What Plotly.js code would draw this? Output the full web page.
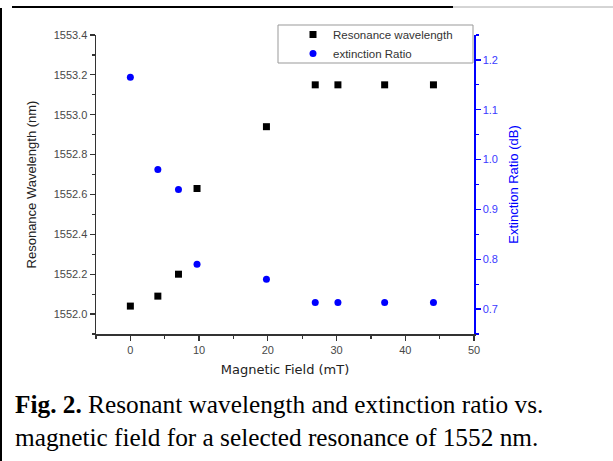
<!DOCTYPE html>
<html>
<head>
<meta charset="utf-8">
<script src="https://cdn.plot.ly/plotly-3.0.1.min.js"></script>
<style>
html,body{margin:0;padding:0;background:#fff;}
#chart{width:613px;height:461px;}
</style>
</head>
<body>
<div id="chart"></div>
<script>
// ---- data ----
const magneticField = [0, 4, 7, 9.7, 19.8, 26.9, 30.2, 37.0, 44.1];
const resonanceWavelength = [1552.04, 1552.09, 1552.20, 1552.63, 1552.94, 1553.15, 1553.15, 1553.15, 1553.15];
const extinctionRatio = [1.165, 0.98, 0.94, 0.79, 0.76, 0.713, 0.713, 0.713, 0.713];
const seriesNames = ["Resonance wavelength", "extinction Ratio"];
const xTitle = "Magnetic Field (mT)";
const yTitle = "Resonance Wavelength (nm)";
const y2Title = "Extinction Ratio (dB)";
const captionLines = ["<b>Fig. 2.</b> Resonant wavelength and extinction ratio vs.", "magnetic field for a selected resonance of 1552 nm."];

// ---- geometry helpers (pixel -> paper) ----
const W = 613, H = 461;
const L = 96, R = 474, T = 35, B = 334;
const px = x => (x - L) / (R - L);
const py = y => (B - y) / (B - T);

const tickFont = {family: "Arial, 'Liberation Sans', sans-serif", size: 11, color: "#484848"};
const titleFont = {family: "Arial, 'Liberation Sans', sans-serif", size: 13, color: "#222"};
const blue = "#0000ff";

const traces = [
  {x: magneticField, y: resonanceWavelength, name: seriesNames[0], type: "scatter", mode: "markers",
   marker: {symbol: "square", size: 7, color: "#000"}, xaxis: "x", yaxis: "y"},
  {x: magneticField, y: extinctionRatio, name: seriesNames[1], type: "scatter", mode: "markers",
   marker: {symbol: "circle", size: 7, color: blue}, xaxis: "x", yaxis: "y2"}
];

const layout = {
  width: W, height: H,
  margin: {l: L, r: W - R, t: T, b: H - B},
  paper_bgcolor: "#fff", plot_bgcolor: "#fff",
  showlegend: true,
  xaxis: {
    range: [-5, 50], tick0: 0, dtick: 10, ticks: "outside", ticklen: 5, tickwidth: 1.2, tickcolor: "#333",
    minor: {dtick: 5, ticks: "outside", ticklen: 3, tickcolor: "#333"},
    showline: true, linecolor: "#333", linewidth: 1.5, zeroline: false, showgrid: false,
    tickfont: tickFont,
    title: {text: xTitle, font: {family: "'DejaVu Sans', Arial, sans-serif", size: 13, color: "#222"}, standoff: 10}
  },
  xaxis2: {
    overlaying: "x", side: "top", matches: "x", range: [-5, 50], tick0: 0, dtick: 5,
    ticks: "inside", ticklen: 4, tickcolor: "#333", showticklabels: false,
    showline: true, linecolor: "#333", linewidth: 1.5, zeroline: false, showgrid: false
  },
  yaxis: {
    range: [1551.9, 1553.4], tick0: 1552.0, dtick: 0.2, tickformat: ".1f",
    ticks: "outside", ticklen: 5, tickwidth: 1.2, tickcolor: "#333",
    minor: {dtick: 0.1, ticks: "outside", ticklen: 3, tickcolor: "#333"},
    showline: true, linecolor: "#333", linewidth: 1.5, zeroline: false, showgrid: false,
    tickfont: tickFont,
    title: {text: yTitle, font: titleFont, standoff: 14}
  },
  yaxis2: {
    overlaying: "y", side: "right", range: [0.65, 1.25], tick0: 0.7, dtick: 0.1, tickformat: ".1f",
    ticks: "outside", ticklen: 5, tickwidth: 1.2, tickcolor: blue,
    minor: {dtick: 0.05, ticks: "outside", ticklen: 3, tickcolor: blue},
    showline: true, linecolor: blue, linewidth: 1.5, zeroline: false, showgrid: false,
    tickfont: {family: tickFont.family, size: 11, color: "#3a3aff"},
    title: {text: y2Title, font: {family: titleFont.family, size: 13, color: blue}, standoff: 12}
  },
  legend: {
    x: px(293), y: py(20), xanchor: "left", yanchor: "top",
    bgcolor: "rgba(0,0,0,0)", borderwidth: 0,
    font: {family: "Arial, 'Liberation Sans', sans-serif", size: 11.5, color: "#333"},
    tracegroupgap: 0
  },
  shapes: [
    // legend frame (covers the top axis line)
    {type: "rect", xref: "paper", yref: "paper", x0: px(278), x1: px(473), y0: py(63), y1: py(25),
     fillcolor: "#fff", line: {color: "#999", width: 1}, layer: "above"},
    // figure frame
    {type: "line", xref: "paper", yref: "paper", x0: px(12), x1: px(453), y0: py(7), y1: py(7),
     line: {color: "#000", width: 2}},
    {type: "line", xref: "paper", yref: "paper", x0: px(453), x1: px(613), y0: py(7), y1: py(7),
     line: {color: "#aaa", width: 1}},
    {type: "line", xref: "paper", yref: "paper", x0: px(1), x1: px(1), y0: py(8), y1: py(461),
     line: {color: "#000", width: 2}}
  ],
  annotations: [
    {xref: "paper", yref: "paper", x: px(13), y: py(388), xanchor: "left", yanchor: "top",
     align: "left", showarrow: false, text: captionLines.join("<br>"),
     font: {family: "'Liberation Serif', 'Times New Roman', serif", size: 25.3, color: "#000"}}
  ]
};

Plotly.newPlot("chart", traces, layout, {displayModeBar: false, staticPlot: true});
</script>
</body>
</html>
